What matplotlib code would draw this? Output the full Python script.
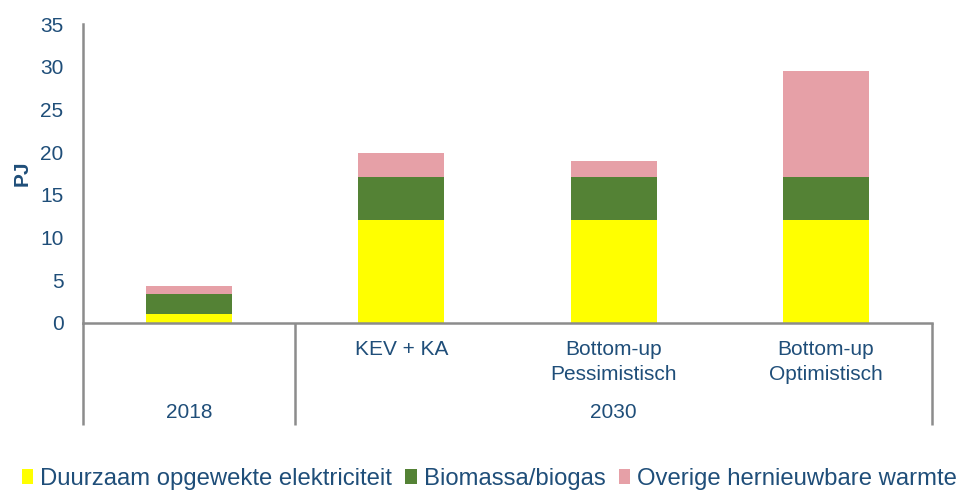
import numpy as np
import matplotlib.pyplot as plt
from matplotlib.patches import Patch

plt.rcParams['font.family'] = ['Liberation Sans', 'DejaVu Sans']

# data (PJ)
categories = ['', 'KEV + KA', 'Bottom-up\nPessimistisch', 'Bottom-up\nOptimistisch']
groups = ['2018', '2030']
group_sizes = [1, 3]
series_names = ['Duurzaam opgewekte elektriciteit', 'Biomassa/biogas', 'Overige hernieuwbare warmte']
elektriciteit = [1.1, 12.0, 12.0, 12.0]
biomassa = [2.3, 5.1, 5.1, 5.1]
warmte = [0.9, 2.8, 1.9, 12.4]
yticks = [0, 5, 10, 15, 20, 25, 30, 35]

colors = ['#FFFF00', '#548235', '#E6A0A7']
txt = '#1F4E79'
grey = '#8C8C8C'

fig = plt.figure(figsize=(9.56, 4.92), dpi=100)
ax = fig.add_axes([83/956, 1-323/492, (932-83)/956, 299/492])

x = np.arange(len(categories))
bottom = np.zeros(len(categories))
for vals, c in zip([elektriciteit, biomassa, warmte], colors):
    ax.bar(x, vals, 0.405, bottom=bottom, color=c, edgecolor='none')
    bottom += np.array(vals)

ax.set_xlim(-0.5, len(categories) - 0.5)
ax.set_ylim(0, 35)
ax.set_yticks(yticks)
ax.tick_params(axis='y', length=0, labelsize=15, labelcolor=txt, pad=14)
ax.set_xticks([])
for s in ['top', 'right']:
    ax.spines[s].set_visible(False)
for s in ['left', 'bottom']:
    ax.spines[s].set_color(grey)
    ax.spines[s].set_linewidth(1.8)

ax.set_ylabel('PJ', fontsize=15, fontweight='bold', color=txt, labelpad=6)

# category labels below the axis
def yfrac(px):
    return (323 - px) / 299

trans = ax.get_xaxis_transform()
for xi, lab in zip(x, categories):
    ax.text(xi, yfrac(340), lab, transform=trans, ha='center', va='top',
            fontsize=15, color=txt, linespacing=1.4)

# group labels and divider lines
start = 0
edges = [-0.5]
for g, n in zip(groups, group_sizes):
    mid = start + (n - 1) / 2
    ax.text(mid, yfrac(412), g, transform=trans, ha='center', va='center',
            fontsize=15, color=txt)
    start += n
    edges.append(start - 0.5)
for e in edges:
    ax.plot([e, e], [0, yfrac(425)], transform=trans, color=grey, lw=1.8,
            clip_on=False, solid_capstyle='butt')

handles = [Patch(facecolor=c, edgecolor='none') for c in colors]
fig.legend(handles, series_names, loc='center left', bbox_to_anchor=(22/956, 1-479/492),
           ncol=3, frameon=False, fontsize=17.2, handlelength=0.47, handleheight=0.55,
           handletextpad=0.3, columnspacing=0.55, labelcolor=txt, borderaxespad=0,
           borderpad=0)

fig.savefig('out.png', dpi=100)
